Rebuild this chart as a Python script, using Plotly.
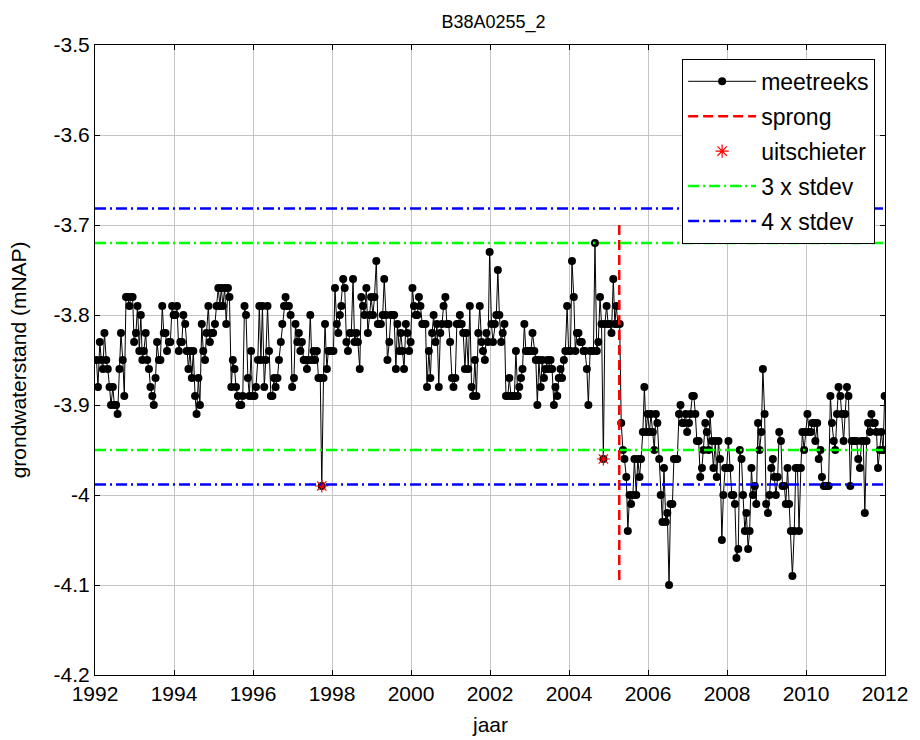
import pandas as pd
import plotly.graph_objects as go

# Groundwater level series (m NAP), two readings per month (14th and 28th), 1992-2011
y1992 = [-3.85, -3.88, -3.83, -3.85, -3.86, -3.82, -3.85, -3.86, -3.88, -3.90, -3.88, -3.90,
         -3.90, -3.91, -3.86, -3.82, -3.85, -3.89, -3.78, -3.78, -3.79, -3.78, -3.78, -3.83]
y1993 = [-3.82, -3.79, -3.84, -3.80, -3.85, -3.84, -3.82, -3.85, -3.86, -3.88, -3.89, -3.90,
         -3.87, -3.83, -3.85, -3.85, -3.79, -3.82, -3.82, -3.84, -3.83, -3.83, -3.79, -3.80]
y1994 = [-3.80, -3.79, -3.84, -3.83, -3.83, -3.80, -3.81, -3.84, -3.86, -3.84, -3.87, -3.84,
         -3.89, -3.91, -3.87, -3.90, -3.81, -3.84, -3.85, -3.82, -3.79, -3.83, -3.82, -3.82]
y1995 = [-3.81, -3.79, -3.77, -3.79, -3.77, -3.79, -3.77, -3.81, -3.77, -3.78, -3.88, -3.85,
         -3.86, -3.88, -3.89, -3.90, -3.90, -3.89, -3.79, -3.80, -3.87, -3.89, -3.84, -3.89]
y1996 = [-3.89, -3.88, -3.85, -3.79, -3.85, -3.79, -3.88, -3.85, -3.79, -3.84, -3.89, -3.89,
         -3.87, -3.88, -3.87, -3.85, -3.83, -3.81, -3.79, -3.78, -3.79, -3.79, -3.80, -3.88]
y1997 = [-3.87, -3.81, -3.83, -3.82, -3.84, -3.83, -3.85, -3.85, -3.86, -3.85, -3.80, -3.85,
         -3.84, -3.85, -3.84, -3.87, -3.87, -3.99, -3.87, -3.81, -3.86, -3.84, -3.84, -3.84]
y1998 = [-3.84, -3.77, -3.81, -3.82, -3.80, -3.79, -3.76, -3.77, -3.83, -3.84, -3.82, -3.82,
         -3.76, -3.83, -3.82, -3.83, -3.86, -3.78, -3.79, -3.80, -3.77, -3.82, -3.80, -3.78]
y1999 = [-3.80, -3.78, -3.74, -3.81, -3.81, -3.81, -3.80, -3.76, -3.80, -3.85, -3.83, -3.80,
         -3.80, -3.80, -3.86, -3.81, -3.84, -3.82, -3.84, -3.86, -3.81, -3.82, -3.84, -3.83]
y2000 = [-3.77, -3.79, -3.80, -3.80, -3.78, -3.79, -3.81, -3.81, -3.81, -3.88, -3.84, -3.87,
         -3.82, -3.80, -3.83, -3.81, -3.88, -3.82, -3.81, -3.79, -3.78, -3.81, -3.81, -3.83]
y2001 = [-3.87, -3.88, -3.87, -3.81, -3.81, -3.80, -3.81, -3.82, -3.86, -3.82, -3.86, -3.79,
         -3.88, -3.89, -3.85, -3.89, -3.82, -3.79, -3.83, -3.84, -3.85, -3.82, -3.83, -3.73]
y2002 = [-3.81, -3.83, -3.81, -3.80, -3.75, -3.80, -3.83, -3.82, -3.81, -3.89, -3.89, -3.87,
         -3.89, -3.89, -3.89, -3.84, -3.89, -3.88, -3.87, -3.86, -3.81, -3.84, -3.84, -3.84]
y2003 = [-3.84, -3.82, -3.84, -3.85, -3.90, -3.85, -3.88, -3.85, -3.87, -3.86, -3.85, -3.86,
         -3.85, -3.86, -3.90, -3.88, -3.89, -3.87, -3.86, -3.87, -3.85, -3.84, -3.79, -3.84]
y2004 = [-3.84, -3.74, -3.78, -3.84, -3.82, -3.82, -3.83, -3.83, -3.84, -3.84, -3.86, -3.90,
         -3.84, -3.84, -3.84, -3.72, -3.84, -3.83, -3.78, -3.81, -3.96, -3.81, -3.79, -3.81]
y2005 = [-3.81, -3.82, -3.76, -3.81, -3.79, -3.81, -3.81, -3.92, -3.95, -3.96, -3.98, -4.04,
         -4.00, -4.01, -4.00, -3.96, -4.00, -3.96, -3.98, -3.96, -3.93, -3.88, -3.93, -3.91]
y2006 = [-3.93, -3.91, -3.93, -3.95, -3.91, -3.92, -3.96, -4.00, -4.03, -3.97, -4.03, -4.02,
         -4.10, -4.01, -4.01, -3.96, -3.96, -3.96, -3.91, -3.90, -3.92, -3.92, -3.91, -3.93]
y2007 = [-3.92, -3.91, -3.89, -3.89, -3.91, -3.94, -3.94, -3.98, -3.97, -3.95, -3.92, -3.93,
         -3.95, -3.91, -3.94, -3.97, -3.94, -3.98, -3.94, -3.96, -4.05, -4.00, -3.97, -3.97]
y2008 = [-3.94, -3.97, -4.00, -4.00, -4.01, -4.07, -4.06, -3.95, -3.96, -4.00, -4.04, -4.02,
         -4.06, -4.04, -3.97, -4.00, -3.99, -4.01, -3.92, -3.95, -3.93, -3.86, -3.91, -4.01]
y2009 = [-4.02, -4.00, -3.97, -3.96, -3.98, -4.00, -3.98, -3.93, -3.94, -3.99, -3.99, -4.01,
         -3.97, -4.01, -4.04, -4.09, -4.04, -3.97, -3.97, -4.04, -3.97, -3.93, -3.95, -3.93]
y2010 = [-3.91, -3.93, -3.93, -3.92, -3.92, -3.94, -3.92, -3.96, -3.95, -3.98, -3.99, -3.99,
         -3.99, -3.99, -3.89, -3.92, -3.94, -3.95, -3.91, -3.88, -3.89, -3.91, -3.94, -3.91]
y2011 = [-3.88, -3.89, -3.99, -3.94, -3.94, -3.94, -3.94, -3.96, -3.97, -3.94, -3.94, -4.02,
         -3.94, -3.92, -3.93, -3.91, -3.92, -3.92, -3.93, -3.97, -3.95, -3.93, -3.95, -3.89]

years = list(range(1992, 2012))
reading_days = [14, 28]

# Flagged outliers (dates taken from the series)
outlier_dates = ["1997-09-28", "2004-11-14"]

# Step change date and the extent of its marker line
sprong_date = "2005-04-10"
sprong_span = [-3.70, -4.10]

# Long-term mean and standard deviation for the control bands
mean_level = -3.835
stdev = 0.0383

x_ticks = [1992, 1994, 1996, 1998, 2000, 2002, 2004, 2006, 2008, 2010, 2012]
y_ticks = [-3.5, -3.6, -3.7, -3.8, -3.9, -4.0, -4.1, -4.2]
y_tick_text = ["-3.5", "-3.6", "-3.7", "-3.8", "-3.9", "-4", "-4.1", "-4.2"]

series_by_year = [y1992, y1993, y1994, y1995, y1996, y1997, y1998, y1999, y2000, y2001,
                  y2002, y2003, y2004, y2005, y2006, y2007, y2008, y2009, y2010, y2011]


def decimal_year(ts):
    ts = pd.Timestamp(ts)
    n_days = 366 if ts.is_leap_year else 365
    return ts.year + (ts.dayofyear - 0.5) / n_days


dates = [pd.Timestamp(year=y, month=m, day=d)
         for y in years for m in range(1, 13) for d in reading_days]
levels = [v for yr in series_by_year for v in yr]
t = [decimal_year(d) for d in dates]
level_by_date = dict(zip(dates, levels))

out_t = [decimal_year(d) for d in outlier_dates]
out_v = [level_by_date[pd.Timestamp(d)] for d in outlier_dates]

t_sprong = decimal_year(sprong_date)
x0, x1 = x_ticks[0], x_ticks[-1]

font_family = "Liberation Sans, Arial, sans-serif"
tick_size = 21

fig = go.Figure()

fig.add_trace(go.Scatter(
    x=t, y=levels, mode="lines+markers", name="meetreeks",
    line=dict(color="black", width=1),
    marker=dict(color="black", size=8, symbol="circle"),
    legendgroup="a",
))
fig.add_trace(go.Scatter(
    x=[t_sprong, t_sprong], y=sprong_span, mode="lines", name="sprong",
    line=dict(color="#ff0000", width=2.5, dash="10px,5px"),
    legendgroup="b",
))
fig.add_trace(go.Scatter(
    x=out_t, y=out_v, mode="markers", name="uitschieter",
    marker=dict(symbol="asterisk-open", size=11, color="#ff0000",
                line=dict(color="#ff0000", width=1.2)),
    legendgroup="c",
))
for k, colour, label, grp in [(3, "#00ff00", "3 x stdev", "d"), (4, "#0000ff", "4 x stdev", "e")]:
    hi, lo = mean_level + k * stdev, mean_level - k * stdev
    fig.add_trace(go.Scatter(
        x=[x0, x1, None, x0, x1], y=[hi, hi, None, lo, lo], mode="lines", name=label,
        line=dict(color=colour, width=2.5, dash="11px,4px,2px,4px"),
        legendgroup=grp,
    ))

axis_common = dict(
    showline=True, linecolor="black", linewidth=1, mirror="ticks",
    ticks="inside", ticklen=5, tickcolor="black",
    showgrid=True, gridcolor="#c4c4c4", gridwidth=1, zeroline=False,
    tickfont=dict(family=font_family, size=tick_size, color="black"),
)

fig.update_xaxes(range=[x0, x1], tickvals=x_ticks, ticktext=[str(v) for v in x_ticks],
                 **axis_common)
fig.update_yaxes(range=[-4.2, -3.5], tickvals=y_ticks, ticktext=y_tick_text, **axis_common)

fig.update_layout(
    width=920, height=740,
    margin=dict(l=95, r=28, t=45, b=65),
    paper_bgcolor="white", plot_bgcolor="white",
    font=dict(family=font_family, color="black"),
    title=dict(text="B38A0255_2", x=0.5365, xanchor="center", y=1 - 22 / 740,
               yanchor="middle", font=dict(size=18, family=font_family, color="black")),
    showlegend=True,
    legend=dict(
        x=0.9875, xanchor="right", y=0.978, yanchor="top",
        bgcolor="white", bordercolor="black", borderwidth=1,
        font=dict(size=23, family=font_family, color="black"),
        tracegroupgap=2, itemwidth=68,
    ),
    annotations=[
        dict(text="jaar", xref="paper", yref="paper", x=0.5, y=-0.079,
             xanchor="center", yanchor="middle", showarrow=False,
             font=dict(size=tick_size, family=font_family, color="black")),
        dict(text="grondwaterstand (mNAP)", xref="paper", yref="paper", x=-0.097, y=0.5,
             xanchor="center", yanchor="middle", textangle=-90, showarrow=False,
             font=dict(size=tick_size, family=font_family, color="black")),
    ],
)

fig.write_html("out.html")
